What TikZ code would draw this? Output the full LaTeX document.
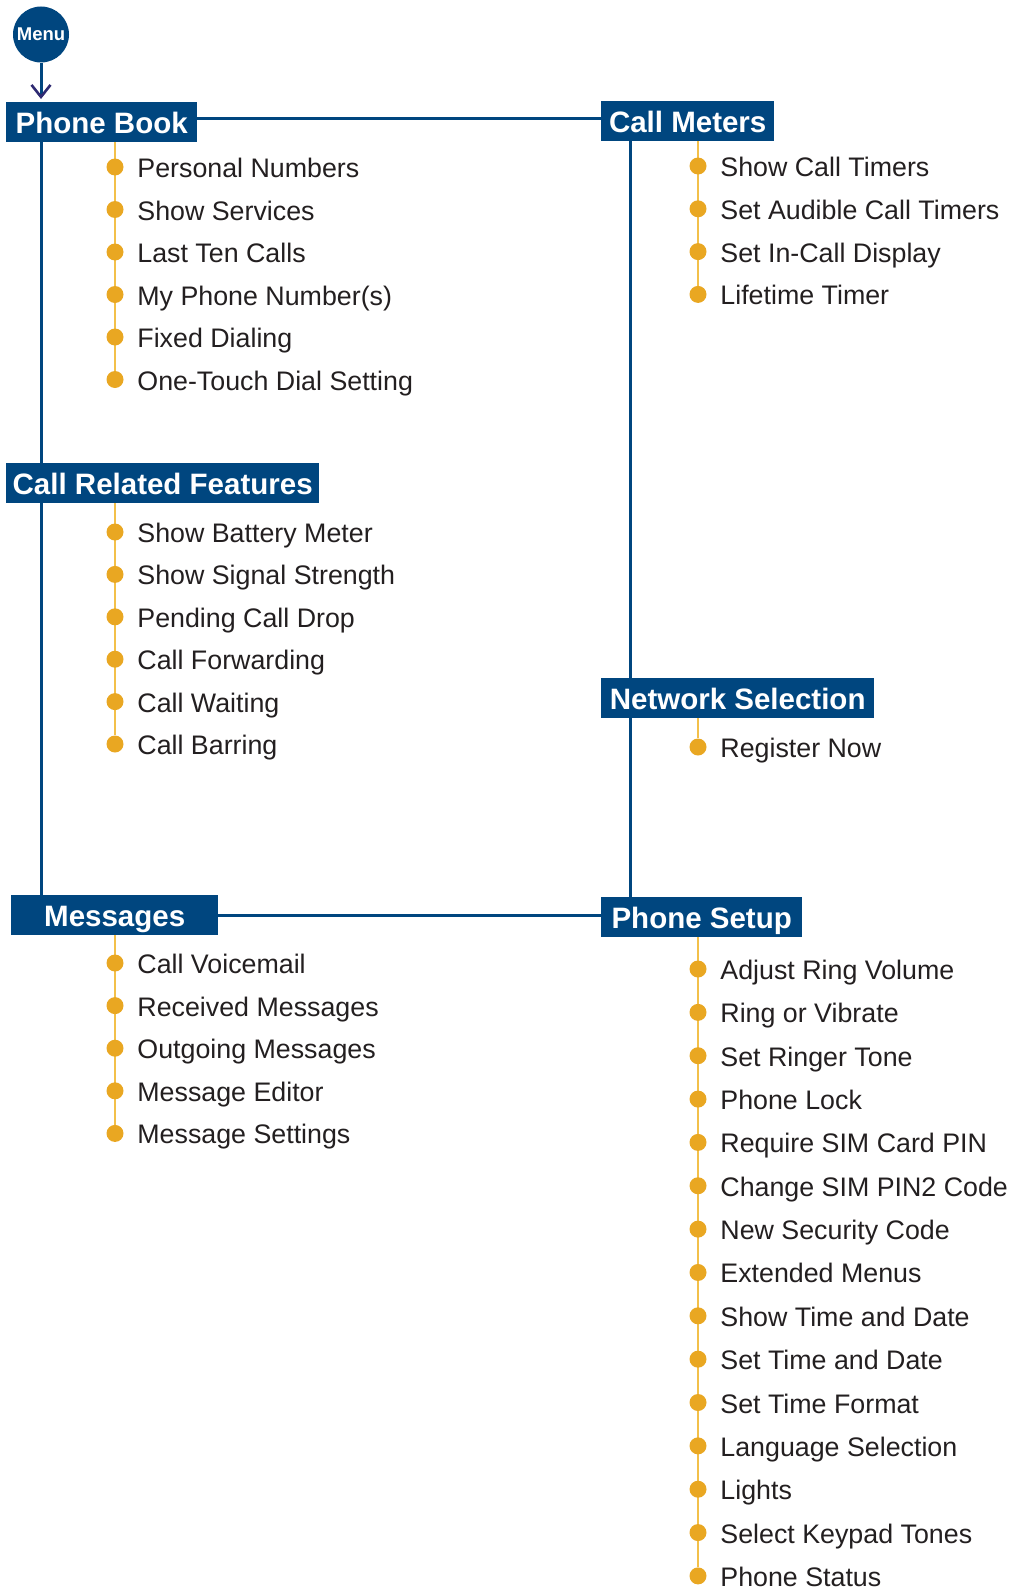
\documentclass[tikz,border=0pt]{standalone}
\usepackage{fontspec}
\setmainfont{Liberation Sans}
\usetikzlibrary{arrows.meta}
\usetikzlibrary{positioning,backgrounds}
\definecolor{menublue}{HTML}{00467F}
\definecolor{dotorange}{HTML}{E9A722}
\definecolor{lineorange}{HTML}{F3C04A}
\definecolor{itemgray}{HTML}{231F20}
\definecolor{arrowpurple}{HTML}{2E2A72}
\tikzset{
 head/.style={fill=menublue, text=white, font=\fontsize{29.5}{30}\bfseries\selectfont, anchor=north west,
   minimum height=40pt, inner xsep=4pt, inner ysep=0pt, text height=22pt, text depth=0pt},
 dot/.style={circle, fill=dotorange, minimum size=17pt, inner sep=0pt},
 entry/.style={right=13.5pt of #1, text=itemgray, font=\fontsize{26.8}{30}\selectfont, inner sep=0pt,
   text height=21pt, text depth=0pt},
 bluelink/.style={menublue, line width=3pt},
 orangelink/.style={lineorange, line width=1.6pt}
}
\begin{document}
\begin{tikzpicture}[x=1pt, y=-1pt]
\useasboundingbox (0,0) rectangle (1013,1587);
\node[circle, fill=menublue, minimum size=56pt, inner sep=0pt, text=white, font=\fontsize{18.5}{19}\bfseries\selectfont] (menu) at (41,34.5) {Menu};
\node[head, minimum width=191pt] (PB) at (6,102) {Phone Book};
\node[head, minimum width=173pt] (CM) at (601,101) {Call Meters};
\node[head, minimum width=313pt] (CRF) at (6,463) {Call Related Features};
\node[head, minimum width=273pt] (NS) at (601,678) {Network Selection};
\node[head, minimum width=207pt] (MS) at (11,895) {Messages};
\node[head, minimum width=201pt] (PS) at (601,897) {Phone Setup};
\coordinate (rail) at (630,0);

\foreach \t [count=\i] in {Personal Numbers, Show Services, Last Ten Calls, My Phone Number(s), Fixed Dialing, One-Touch Dial Setting} {
 \node[dot] (pb\i) at (115,{167+42.5*(\i-1)}) {};
 \node[entry=pb\i] (pbt\i) {\t};
}
\foreach \t [count=\i] in {Show Battery Meter, Show Signal Strength, Pending Call Drop, Call Forwarding, Call Waiting, Call Barring} {
 \node[dot] (crf\i) at (115,{532+42.4*(\i-1)}) {};
 \node[entry=crf\i] (crft\i) {\t};
}
\foreach \t [count=\i] in {Call Voicemail, Received Messages, Outgoing Messages, Message Editor, Message Settings} {
 \node[dot] (ms\i) at (115,{963+42.6*(\i-1)}) {};
 \node[entry=ms\i] (mst\i) {\t};
}
\foreach \t [count=\i] in {Show Call Timers, Set Audible Call Timers, Set In-Call Display, Lifetime Timer} {
 \node[dot] (cm\i) at (698,{166+42.8*(\i-1)}) {};
 \node[entry=cm\i] (cmt\i) {\t};
}
\node[dot] (ns1) at (698,747) {};
\node[entry=ns1] (nst1) {Register Now};
\foreach \t [count=\i] in {Adjust Ring Volume, Ring or Vibrate, Set Ringer Tone, Phone Lock, Require SIM Card PIN, Change SIM PIN2 Code, New Security Code, Extended Menus, Show Time and Date, Set Time and Date, Set Time Format, Language Selection, Lights, Select Keypad Tones, Phone Status} {
 \node[dot] (ps\i) at (698,{969+43.35*(\i-1)}) {};
 \node[entry=ps\i] (pst\i) {\t};
}

\begin{scope}[on background layer]
\draw[menublue, line width=3pt, shorten >=3pt, -{Straight Barb[color=arrowpurple, length=12pt, width=19pt, line width=2.6pt]}] (menu.south) -- (menu |- PB.north);
\draw[bluelink] ([yshift=4pt]PB.east) -- ([yshift=4pt]PB.east -| CM.west);
\draw[bluelink] (menu |- PB.south) -- (menu |- CRF.north);
\draw[bluelink] (menu |- CRF.south) -- (menu |- MS.north);
\draw[bluelink] (rail |- CM.south) -- (rail |- NS.north);
\draw[bluelink] (rail |- NS.south) -- (rail |- PS.north);
\draw[bluelink] (MS.east) -- (MS.east -| PS.west);
\draw[orangelink] (pb1 |- PB.south) -- (pb6);
\draw[orangelink] (crf1 |- CRF.south) -- (crf6);
\draw[orangelink] (ms1 |- MS.south) -- (ms5);
\draw[orangelink] (cm1 |- CM.south) -- (cm4);
\draw[orangelink] (ns1 |- NS.south) -- (ns1);
\draw[orangelink] (ps1 |- PS.south) -- (ps15);
\end{scope}
\end{tikzpicture}
\end{document}
